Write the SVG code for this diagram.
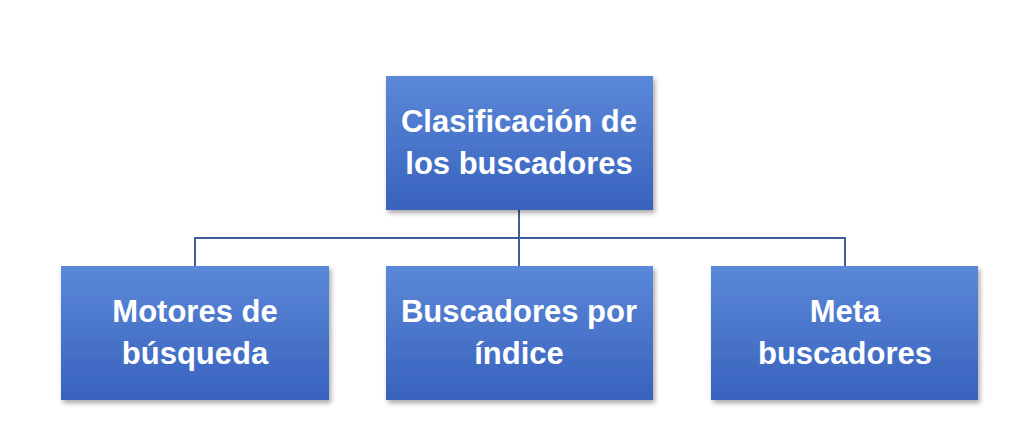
<svg xmlns="http://www.w3.org/2000/svg" width="1024" height="444" viewBox="0 0 1024 444">
<defs>
<linearGradient id="g" x1="0" y1="0" x2="0" y2="1">
<stop offset="0" stop-color="#5b88d8"/>
<stop offset="1" stop-color="#3862bd"/>
</linearGradient>
<filter id="s" x="-10%" y="-10%" width="125%" height="130%">
<feDropShadow dx="2" dy="3" stdDeviation="2.5" flood-color="#000" flood-opacity="0.35"/>
</filter>
<style>
.b{fill:url(#g);filter:url(#s)}
.t{fill:#fff;font-family:"Liberation Sans",Arial,sans-serif;font-weight:bold;font-size:31px;text-anchor:middle}
.c{fill:none;stroke:#3f5f9a;stroke-width:2}
</style>
</defs>
<rect width="1024" height="444" fill="#fff"/>
<g id="connectors">
<path class="c" d="M519 210V238M195 266V238H845V266M519 238V266"/>
</g>
<g id="root"><rect class="b" x="386" y="76" width="267" height="134"/>
<text class="t" x="519" y="132">Clasificación de</text><text class="t" x="519" y="174">los buscadores</text></g>
<g id="motores"><rect class="b" x="61" y="266" width="268" height="134"/>
<text class="t" x="195" y="322">Motores de</text><text class="t" x="195" y="364">búsqueda</text></g>
<g id="indice"><rect class="b" x="386" y="266" width="267" height="134"/>
<text class="t" x="519" y="322">Buscadores por</text><text class="t" x="519" y="364">índice</text></g>
<g id="meta"><rect class="b" x="711" y="266" width="267" height="134"/>
<text class="t" x="845" y="322">Meta</text><text class="t" x="845" y="364">buscadores</text></g>
</svg>
